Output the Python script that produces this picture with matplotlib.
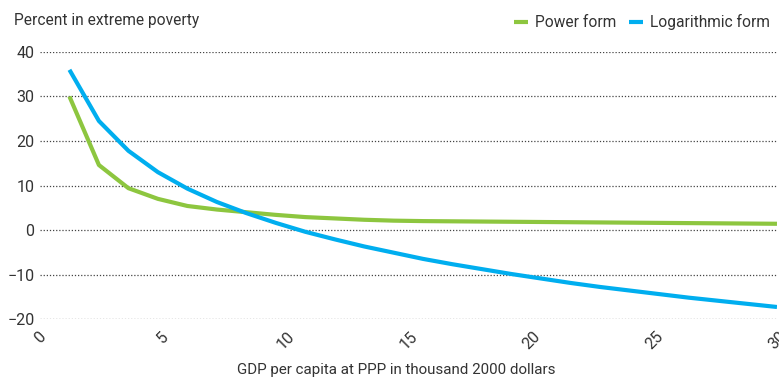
import matplotlib.pyplot as plt
import numpy as np

# GDP per capita (thousand 2000 dollars, PPP)
gdp = [1.2, 2.4, 3.6, 4.8, 6.0, 7.2, 8.4, 9.6, 10.8, 12.0, 13.2, 14.4, 15.6,
       16.8, 18.0, 19.2, 20.4, 21.6, 22.8, 24.0, 25.2, 26.4, 27.6, 28.8, 30.0]

# Percent in extreme poverty under each functional form
power_form = [30.0, 14.6, 9.4, 7.0, 5.4, 4.6, 4.0, 3.4, 2.9, 2.6, 2.3, 2.1, 2.0,
              1.95, 1.9, 1.85, 1.8, 1.75, 1.7, 1.65, 1.6, 1.55, 1.5, 1.45, 1.4]
log_form = [36.0, 24.5, 17.8, 13.0, 9.3, 6.3, 3.8, 1.6, -0.4, -2.1, -3.7, -5.1, -6.5,
            -7.7, -8.8, -9.9, -10.9, -11.9, -12.8, -13.6, -14.4, -15.2, -15.9, -16.6, -17.3]

xticks = [0, 5, 10, 15, 20, 25, 30]
yticks = [-20, -10, 0, 10, 20, 30, 40]

green = "#8dc63f"
blue = "#00aeef"
text_color = "#333333"

plt.rcParams["font.family"] = ["Roboto", "DejaVu Sans"]

fig = plt.figure(figsize=(7.79, 3.79), dpi=100)
ax = fig.add_axes([0.0513, 0.1583, 0.9461, 0.7045])

ax.plot(gdp, power_form, color=green, lw=3, label="Power form", solid_capstyle="butt")
ax.plot(gdp, log_form, color=blue, lw=3, label="Logarithmic form", solid_capstyle="butt")

ax.set_xlim(0, 30)
ax.set_ylim(-20, 40)
ax.set_xticks(xticks)
ax.set_yticks(yticks)
ax.set_xticklabels([str(t) for t in xticks], rotation=45, ha="center", fontsize=11.5,
                   color=text_color)
ax.set_yticklabels(["\u221220", "\u221210", "0", "10", "20", "30", "40"], fontsize=11.5,
                   color=text_color)
ax.tick_params(axis="both", length=0)
ax.tick_params(axis="y", pad=4)
ax.tick_params(axis="x", pad=7)

ax.grid(axis="y", linestyle=(0, (1, 1.5)), color="#444444", lw=0.9)
ax.set_axisbelow(True)
for s in ax.spines.values():
    s.set_visible(False)

ax.set_xlabel("GDP per capita at PPP in thousand 2000 dollars", fontsize=10.9,
              color=text_color)
ax.xaxis.set_label_coords(0.484, -0.165)
fig.text(0.018, 0.945, "Percent in extreme poverty", fontsize=11.2, color=text_color,
         ha="left", va="center")

fig.legend(loc="upper right", bbox_to_anchor=(1.006, 1.0), ncol=2, frameon=False,
           fontsize=11.2, handlelength=0.9, handletextpad=0.45, columnspacing=0.8,
           labelcolor=text_color)

fig.savefig("out.png", dpi=100)
